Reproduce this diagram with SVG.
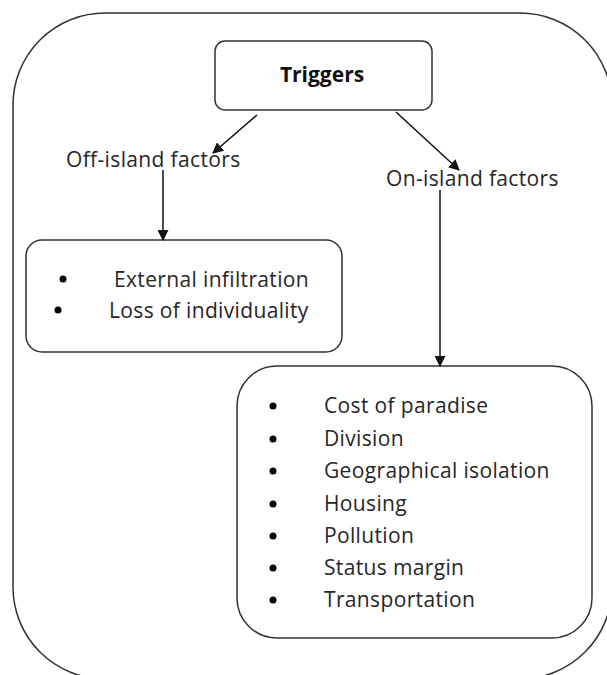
<svg xmlns="http://www.w3.org/2000/svg" width="607" height="675" viewBox="0 0 607 675">
<style>
.box{fill:#fff;stroke:#333;stroke-width:1.5}
.t{font-family:"Open Sans","Noto Sans",sans-serif;font-size:21px;letter-spacing:0.35px;fill:#262626}
.b{font-family:"Open Sans","Noto Sans",sans-serif;font-size:21px;font-weight:bold;fill:#111}
.c{stroke:#111;stroke-width:1.5;fill:none}
</style>
<defs>
<marker id="ah" viewBox="0 0 10 10" refX="9" refY="5" markerWidth="11" markerHeight="11" markerUnits="userSpaceOnUse" orient="auto">
<path d="M0,0 L10,5 L0,10 z" fill="#111"/>
</marker>
</defs>
<rect width="607" height="675" fill="#fff"/>
<g id="outer"><rect x="13" y="13" width="599" height="666" rx="92" ry="92" fill="none" stroke="#333" stroke-width="1.5"/></g>
<g id="triggers">
<rect class="box" x="215" y="41" width="217" height="69" rx="10"/>
<text class="b" x="322" y="82" text-anchor="middle">Triggers</text>
</g>
<g id="off-island"><text class="t" x="66" y="167">Off-island factors</text></g>
<g id="on-island"><text class="t" x="386" y="186">On-island factors</text></g>
<g id="off-list">
<rect class="box" x="26" y="240" width="316" height="112" rx="16"/>
<circle cx="63" cy="279" r="3.5" fill="#000"/>
<circle cx="58" cy="310" r="3.5" fill="#000"/>
<text class="t" x="114" y="287">External infiltration</text>
<text class="t" x="109" y="318">Loss of individuality</text>
</g>
<g id="on-list">
<rect class="box" x="237" y="366" width="355" height="272" rx="40"/>
<g fill="#000">
<circle cx="273" cy="406" r="3.5"/><circle cx="273" cy="439" r="3.5"/><circle cx="273" cy="471" r="3.5"/><circle cx="273" cy="504" r="3.5"/><circle cx="273" cy="536" r="3.5"/><circle cx="273" cy="568" r="3.5"/><circle cx="273" cy="600" r="3.5"/>
</g>
<text class="t" x="324" y="413">Cost of paradise</text>
<text class="t" x="324" y="446">Division</text>
<text class="t" x="324" y="478">Geographical isolation</text>
<text class="t" x="324" y="511">Housing</text>
<text class="t" x="324" y="543">Pollution</text>
<text class="t" x="324" y="575">Status margin</text>
<text class="t" x="324" y="607">Transportation</text>
</g>
<g id="connectors">
<line class="c" x1="257" y1="115" x2="213" y2="153" marker-end="url(#ah)"/>
<line class="c" x1="396" y1="112" x2="459" y2="170" marker-end="url(#ah)"/>
<line class="c" x1="163" y1="170" x2="163" y2="240" marker-end="url(#ah)"/>
<line class="c" x1="440" y1="190" x2="440" y2="366" marker-end="url(#ah)"/>
</g>
</svg>
